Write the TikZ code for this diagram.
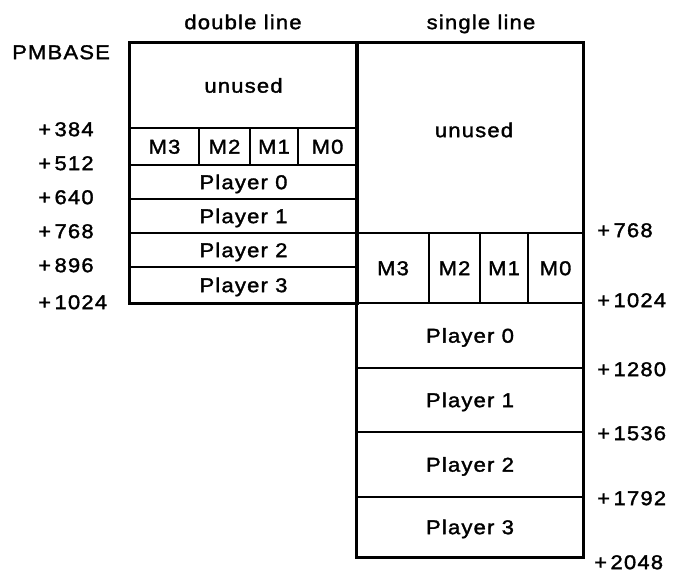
\documentclass[tikz,border=0pt]{standalone}
\usepackage{fontspec}
\setmainfont{Liberation Sans}[FakeStretch=1.1,LetterSpace=6,FakeBold=1.6]
\newcommand{\pl}{+\hspace{3.5pt}}
\begin{document}
\begin{tikzpicture}[x=1pt,y=-1pt,
  txt/.style={font=\fontsize{20}{20}\selectfont, text height=14.3pt, text depth=0pt, inner sep=0pt},
  cell/.style={txt, draw, line width=1.3pt, minimum width=#1},
  lbl/.style={txt, anchor=west},
  outer/.style={line width=3pt}]
\useasboundingbox (0,0) rectangle (676,572);
% left column (double line)
\node[cell=227pt, minimum height=85pt] (lu) at (243.5,85.5) {unused};
\node[cell=69pt, minimum height=37pt] (lm3) at (164.5,146.5) {M3};
\node[cell=51pt, minimum height=37pt] (lm2) at (224.5,146.5) {M2};
\node[cell=48pt, minimum height=37pt] (lm1) at (274,146.5) {M1};
\node[cell=59pt, minimum height=37pt] (lm0) at (327.5,146.5) {M0};
\node[cell=227pt, minimum height=34pt] (lp0) at (243.5,182) {Player 0};
\node[cell=227pt, minimum height=34pt] (lp1) at (243.5,216) {Player 1};
\node[cell=227pt, minimum height=34pt] (lp2) at (243.5,250) {Player 2};
\node[cell=227pt, minimum height=36pt] (lp3) at (243.5,285) {Player 3};
% right column (single line)
\node[cell=226pt, minimum height=190pt] (ru) at (470,138) {};
\node[txt] (rut) at (474,130) {unused};
\node[cell=72pt, minimum height=70pt] (rm3) at (393,268) {M3};
\node[cell=51pt, minimum height=70pt] (rm2) at (454.5,268) {M2};
\node[cell=48pt, minimum height=70pt] (rm1) at (504,268) {M1};
\node[cell=55pt, minimum height=70pt] (rm0) at (555.5,268) {M0};
\node[cell=226pt, minimum height=65pt] (rp0) at (470,335.5) {Player 0};
\node[cell=226pt, minimum height=64pt] (rp1) at (470,400) {Player 1};
\node[cell=226pt, minimum height=65pt] (rp2) at (470,464.5) {Player 2};
\node[cell=226pt, minimum height=60pt] (rp3) at (470,527) {Player 3};
% outer frames
\draw[outer] (lu.north west) rectangle (lp3.south east);
\draw[outer] (ru.north west) rectangle (rp3.south east);
% headers
\node[txt] (h1) at (243,22) {double line};
\node[txt] (h2) at (481,22) {single line};
% left offsets
\node[lbl] (pm) at (12,52) {PMBASE};
\node[lbl] (a384) at (38,129) {\pl384};
\node[lbl] (a512) at (38,163) {\pl512};
\node[lbl] (a640) at (38,197) {\pl640};
\node[lbl] (a768) at (38,231) {\pl768};
\node[lbl] (a896) at (38,265) {\pl896};
\node[lbl] (a1024) at (38,302) {\pl1024};
% right offsets
\node[lbl] (b768) at (597,230) {\pl768};
\node[lbl] (b1024) at (597,300) {\pl1024};
\node[lbl] (b1280) at (597,369) {\pl1280};
\node[lbl] (b1536) at (597,433) {\pl1536};
\node[lbl] (b1792) at (597,498) {\pl1792};
\node[lbl] (b2048) at (594,562) {\pl2048};
\end{tikzpicture}
\end{document}
